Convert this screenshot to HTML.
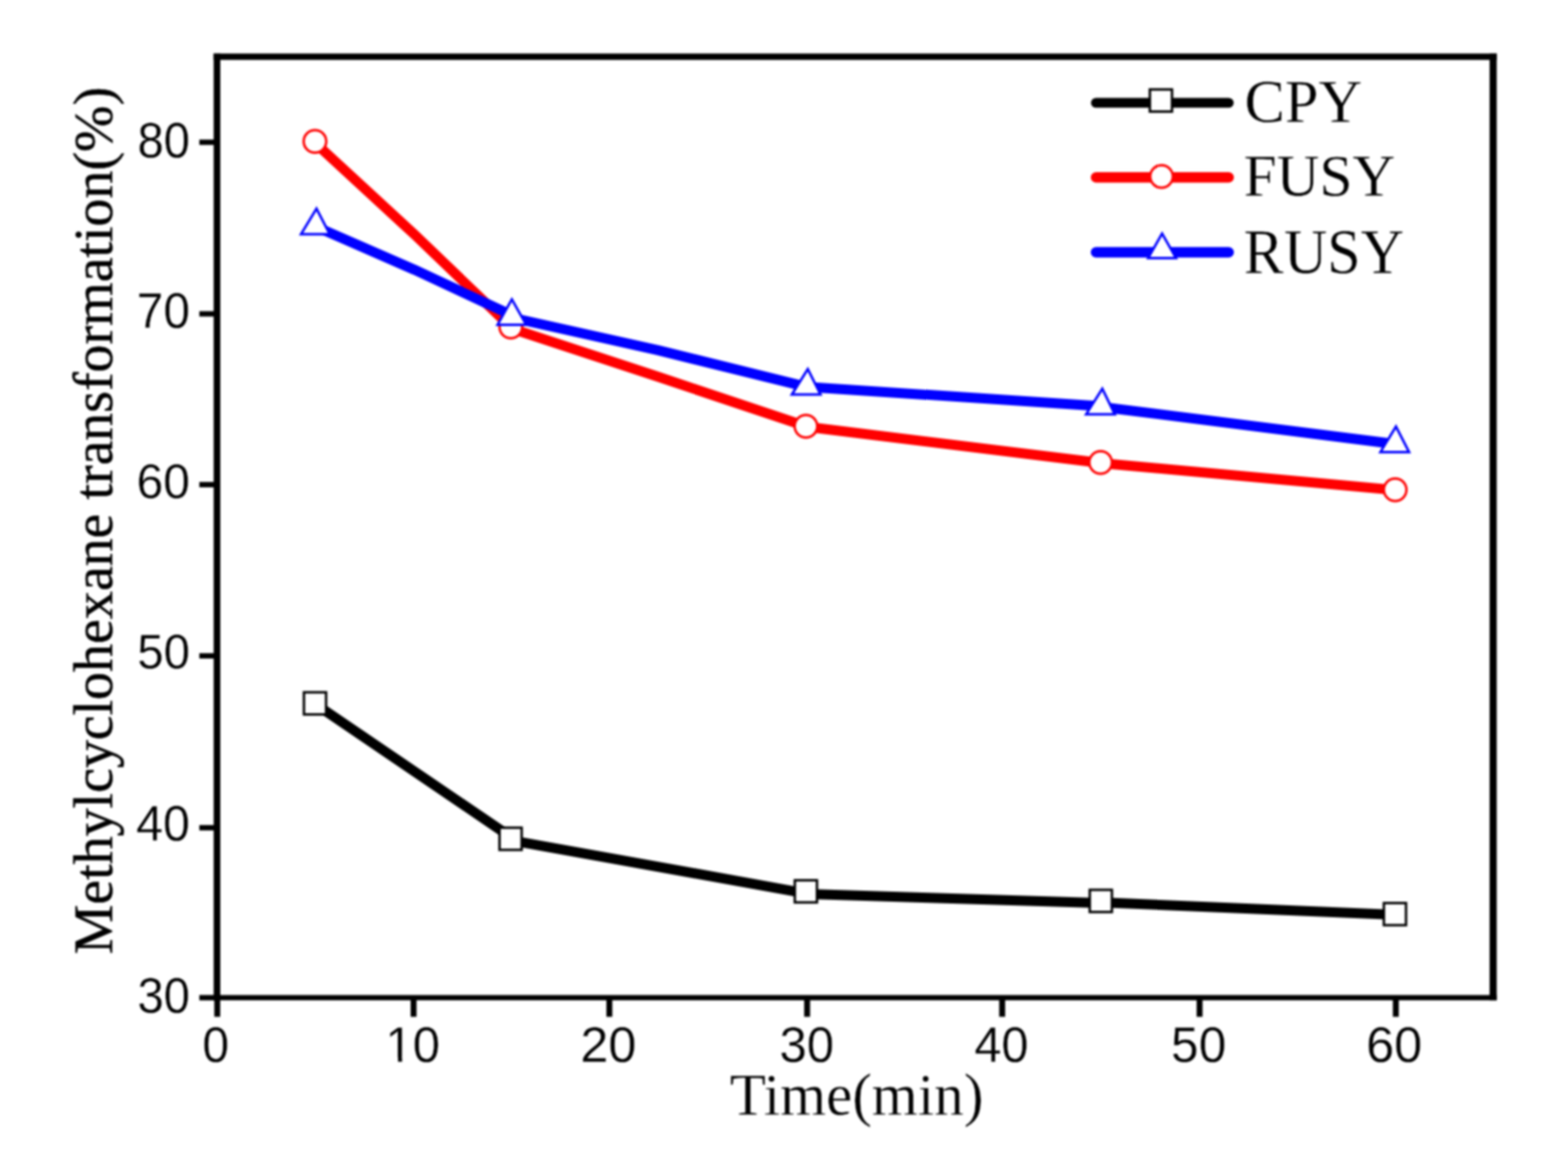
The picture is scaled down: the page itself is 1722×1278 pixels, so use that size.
<!DOCTYPE html>
<html lang="en"><head><meta charset="utf-8">
<title>Methylcyclohexane transformation vs. time</title>
<style>
html,body{margin:0;padding:0;background:#fff;}
body{width:1722px;height:1278px;overflow:hidden;}
svg{display:block;}
.tick{font-family:"Liberation Sans",Arial,Helvetica,sans-serif;fill:#000;stroke:#fff;stroke-width:0.5px;}
.ttl{font-family:"Liberation Serif","Times New Roman",Times,serif;fill:#000;stroke:#fff;stroke-width:0.5px;}
</style></head><body>
<svg width="1722" height="1278" viewBox="0 0 1722 1278" role="img" aria-label="Methylcyclohexane transformation (%) versus time (min) for CPY, FUSY and RUSY">
<defs><filter id="soft" x="0" y="0" width="1722" height="1278" filterUnits="userSpaceOnUse" color-interpolation-filters="sRGB"><feGaussianBlur stdDeviation="0.85"/></filter><clipPath id="nofoot" clipPathUnits="userSpaceOnUse"><path clip-rule="evenodd" d="M-20,-120H140V40H-20Z M0,-8.6H25.5V3H0Z M33.75,-8.6H53V3H33.75Z"/></clipPath></defs>
<rect x="0" y="0" width="1722" height="1278" fill="#fff"/>
<g filter="url(#soft)">
<rect x="0" y="0" width="1722" height="1278" fill="#fff"/>
<g fill="none" stroke-width="11.0" stroke-linejoin="round" stroke-linecap="round">
<polyline points="345.9,772.8 560.8,918.9" stroke="#000"/>
<polyline points="560.8,922.6 885.0,980.8" stroke="#000"/>
<polyline points="885.0,981.4 1208.9,991.5" stroke="#000"/>
<polyline points="1208.9,990.7 1532.0,1004.4" stroke="#000"/>
<polyline points="345.9,156.8 455.0,257.3 561.0,359.0" stroke="#f00"/>
<polyline points="561.0,360.5 723.0,413.8 885.1,468.0" stroke="#f00"/>
<polyline points="885.1,468.5 1208.7,508.3" stroke="#f00"/>
<polyline points="1208.7,508.5 1532.2,538.0" stroke="#f00"/>
<polyline points="346.0,248.5 455.0,296.1 560.8,345.5" stroke="#00f"/>
<polyline points="560.8,348.5 722.0,384.4 885.3,424.7" stroke="#00f"/>
<polyline points="885.3,424.7 1208.7,446.0" stroke="#00f"/>
<polyline points="1208.7,446.7 1532.0,487.5" stroke="#00f"/>
</g>
<g>
<rect x="333.8" y="760.1" width="24.3" height="24.3" fill="#fff" stroke="#000" stroke-width="2.7"/>
<rect x="548.6" y="908.8" width="24.3" height="24.3" fill="#fff" stroke="#000" stroke-width="2.7"/>
<rect x="872.9" y="966.5" width="24.3" height="24.3" fill="#fff" stroke="#000" stroke-width="2.7"/>
<rect x="1196.8" y="977.0" width="24.3" height="24.3" fill="#fff" stroke="#000" stroke-width="2.7"/>
<rect x="1519.8" y="991.5" width="24.3" height="24.3" fill="#fff" stroke="#000" stroke-width="2.7"/>
<circle cx="345.9" cy="155.3" r="12.4" fill="#fff" stroke="#f00" stroke-width="2.7"/>
<circle cx="561.0" cy="359.0" r="12.4" fill="#fff" stroke="#f00" stroke-width="2.7"/>
<circle cx="885.1" cy="468.0" r="12.4" fill="#fff" stroke="#f00" stroke-width="2.7"/>
<circle cx="1208.7" cy="507.8" r="12.4" fill="#fff" stroke="#f00" stroke-width="2.7"/>
<circle cx="1532.2" cy="537.7" r="12.4" fill="#fff" stroke="#f00" stroke-width="2.7"/>
<polygon points="347.6,229.1 362.1,257.1 330.6,257.1" fill="#fff" stroke="#00f" stroke-width="2.7" stroke-linejoin="miter"/>
<polygon points="562.1,328.7 577.9,356.7 546.4,356.7" fill="#fff" stroke="#00f" stroke-width="2.7" stroke-linejoin="miter"/>
<polygon points="887.1,405.2 901.1,433.2 869.6,433.2" fill="#fff" stroke="#00f" stroke-width="2.7" stroke-linejoin="miter"/>
<polygon points="1210.6,426.8 1224.3,454.8 1192.8,454.8" fill="#fff" stroke="#00f" stroke-width="2.7" stroke-linejoin="miter"/>
<polygon points="1533.1,468.3 1547.5,496.3 1516.0,496.3" fill="#fff" stroke="#00f" stroke-width="2.7" stroke-linejoin="miter"/>
</g>
<g stroke="#000" fill="none" stroke-linecap="butt">
<line x1="234.65" y1="62.3" x2="1643.70" y2="62.3" stroke-width="7.0"/>
<line x1="234.65" y1="1095.4" x2="1643.70" y2="1095.4" stroke-width="5.8"/>
<line x1="238.3" y1="58.80" x2="238.3" y2="1098.30" stroke-width="7.3"/>
<line x1="1639.8" y1="58.80" x2="1639.8" y2="1098.30" stroke-width="7.8"/>
<line x1="238.6" y1="1095.4" x2="238.6" y2="1116.4" stroke-width="6.5"/>
<line x1="454.2" y1="1095.4" x2="454.2" y2="1116.4" stroke-width="6.5"/>
<line x1="669.2" y1="1095.4" x2="669.2" y2="1116.4" stroke-width="6.5"/>
<line x1="886.4" y1="1095.4" x2="886.4" y2="1116.4" stroke-width="6.5"/>
<line x1="1100.6" y1="1095.4" x2="1100.6" y2="1116.4" stroke-width="6.5"/>
<line x1="1317.4" y1="1095.4" x2="1317.4" y2="1116.4" stroke-width="6.5"/>
<line x1="1532.9" y1="1095.4" x2="1532.9" y2="1116.4" stroke-width="6.5"/>
<line x1="238.3" y1="156.2" x2="218.9" y2="156.2" stroke-width="5.9"/>
<line x1="238.3" y1="344.6" x2="218.9" y2="344.6" stroke-width="5.9"/>
<line x1="238.3" y1="532.1" x2="218.9" y2="532.1" stroke-width="5.9"/>
<line x1="238.3" y1="720.1" x2="218.9" y2="720.1" stroke-width="5.9"/>
<line x1="238.3" y1="908.8" x2="218.9" y2="908.8" stroke-width="5.9"/>
<line x1="238.3" y1="1095.4" x2="218.9" y2="1095.4" stroke-width="5.9"/>
</g>
<g class="tick">
<text class="tick" font-size="100" transform="matrix(0.5277 0 0 0.5520 222.19 1165.50)">0</text>
<text class="tick" font-size="100" clip-path="url(#nofoot)" transform="matrix(0.5395 0 0 0.5520 423.34 1165.50)">10</text>
<text class="tick" font-size="100" transform="matrix(0.5555 0 0 0.5520 637.22 1165.50)">20</text>
<text class="tick" font-size="100" transform="matrix(0.5391 0 0 0.5520 855.98 1165.50)">30</text>
<text class="tick" font-size="100" transform="matrix(0.5352 0 0 0.5520 1070.10 1165.50)">40</text>
<text class="tick" font-size="100" transform="matrix(0.5443 0 0 0.5520 1286.12 1165.50)">50</text>
<text class="tick" font-size="100" transform="matrix(0.5555 0 0 0.5520 1500.22 1165.50)">60</text>
<text class="tick" font-size="100" transform="matrix(0.5184 0 0 0.5491 150.90 172.50)">80</text>
<text class="tick" font-size="100" transform="matrix(0.5235 0 0 0.5634 150.35 359.60)">70</text>
<text class="tick" font-size="100" transform="matrix(0.5271 0 0 0.5448 149.96 547.10)">60</text>
<text class="tick" font-size="100" transform="matrix(0.5191 0 0 0.5448 150.82 734.30)">50</text>
<text class="tick" font-size="100" transform="matrix(0.5314 0 0 0.5606 149.50 922.80)">40</text>
<text class="tick" font-size="100" transform="matrix(0.5179 0 0 0.5520 150.96 1111.60)">30</text>
</g>
<text class="ttl" font-size="100" transform="matrix(0.6484 0 0 0.6626 801.47 1223.60)">Time(min)</text>
<text class="ttl" style="stroke:#000;stroke-width:0.5px" font-size="61" transform="translate(123.3 571.6) rotate(-90)" text-anchor="middle" textLength="952.5" lengthAdjust="spacingAndGlyphs">Methylcyclohexane transformation(%)</text>
<line x1="1203.6" y1="112.9" x2="1349.4" y2="112.9" stroke="#000" stroke-width="10.9" stroke-linecap="round"/>
<rect x="1262.8" y="98.2" width="24.3" height="24.3" fill="#fff" stroke="#000" stroke-width="2.7"/>
<text class="ttl" font-size="100" transform="matrix(0.6638 0 0 0.6733 1366.74 133.90)">CPY</text>
<line x1="1203.6" y1="194.7" x2="1349.4" y2="194.7" stroke="#f00" stroke-width="11.4" stroke-linecap="round"/>
<circle cx="1275.6" cy="193.7" r="12.4" fill="#fff" stroke="#f00" stroke-width="2.7"/>
<text class="ttl" font-size="100" transform="matrix(0.6521 0 0 0.6565 1365.64 215.20)">FUSY</text>
<line x1="1203.6" y1="277.0" x2="1349.4" y2="277.0" stroke="#00f" stroke-width="11.5" stroke-linecap="round"/>
<polygon points="1276.2,256.4 1291.5,283.4 1261.0,283.4" fill="#fff" stroke="#00f" stroke-width="2.7" stroke-linejoin="miter"/>
<text class="ttl" font-size="100" transform="matrix(0.6607 0 0 0.7053 1365.82 300.20)">RUSY</text>
</g>
</svg>
</body></html>
